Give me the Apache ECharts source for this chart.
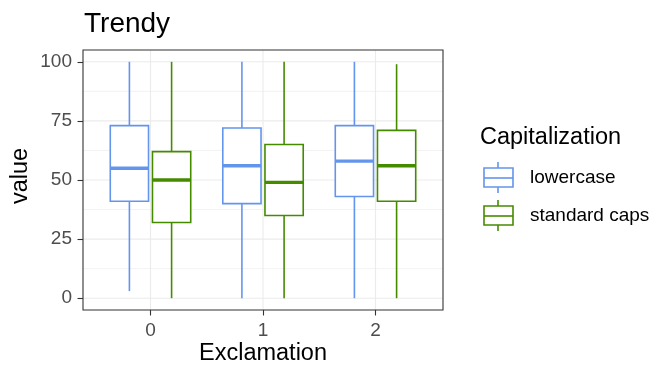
<!DOCTYPE html>
<html>
<head>
<meta charset="utf-8">
<script src="https://cdn.jsdelivr.net/npm/echarts@6/dist/echarts.min.js"></script>
<style>html,body{margin:0;padding:0;background:#fff}#c{width:650px;height:368px}</style>
</head>
<body>
<div id="c"></div>
<script>
// ---- data ----
const categories = ['0', '1', '2'];
const seriesNames = ['lowercase', 'standard caps'];
const lowerMin = [3, 0, 0];
const lowerQ1 = [41, 40, 43];
const lowerMed = [55, 56, 58];
const lowerQ3 = [73, 72, 73];
const lowerMax = [100, 100, 100];
const capsMin = [0, 0, 0];
const capsQ1 = [32, 35, 41];
const capsMed = [50, 49, 56];
const capsQ3 = [62, 65, 71];
const capsMax = [100, 100, 99];
const yTicks = [0, 25, 50, 75, 100];
const yMinor = [12.5, 37.5, 62.5, 87.5];

const FONT = 'Liberation Sans';
const BLUE = '#6495ED';
const GREEN = '#458B00';

function rows(mn, q1, md, q3, mx) {
  return categories.map((c, i) => [i, mn[i], q1[i], md[i], q3[i], mx[i]]);
}
const HALF = 0.17, OFF = 0.1875;
function boxRender(offset) {
  return function (params, api) {
    const cx = api.value(0) + offset;
    const color = api.visual('color');
    const xl = api.coord([cx - HALF, 0])[0];
    const xr = api.coord([cx + HALF, 0])[0];
    const xc = api.coord([cx, 0])[0];
    const yv = k => api.coord([cx, api.value(k)])[1];
    const yMin = yv(1), yQ1 = yv(2), yMed = yv(3), yQ3 = yv(4), yMax = yv(5);
    const ls = { stroke: color, lineWidth: 1.6, fill: null };
    return {
      type: 'group',
      children: [
        { type: 'line', shape: { x1: xc, y1: yQ1, x2: xc, y2: yMin }, style: ls },
        { type: 'line', shape: { x1: xc, y1: yQ3, x2: xc, y2: yMax }, style: ls },
        { type: 'rect', shape: { x: xl, y: yQ3, width: xr - xl, height: yQ1 - yQ3 },
          style: { stroke: color, lineWidth: 1.6, fill: '#ffffff' } },
        { type: 'line', shape: { x1: xl, y1: yMed, x2: xr, y2: yMed },
          style: { stroke: color, lineWidth: 3.4 } }
      ]
    };
  };
}
function hGrid(width) {
  return function (params, api) {
    const cs = params.coordSys;
    const y = api.coord([0, api.value(0)])[1];
    return { type: 'line', shape: { x1: cs.x, y1: y, x2: cs.x + cs.width, y2: y },
      style: { stroke: '#ebebeb', lineWidth: width } };
  };
}
function vGrid(params, api) {
  const cs = params.coordSys;
  const x = api.coord([api.value(0), 0])[0];
  return { type: 'line', shape: { x1: x, y1: cs.y, x2: x, y2: cs.y + cs.height },
    style: { stroke: '#ebebeb', lineWidth: 1.1 } };
}

function legendKey(y0, color) {
  return [
    { type: 'line', shape: { x1: 498, y1: y0 - 16, x2: 498, y2: y0 + 15 }, style: { stroke: color, lineWidth: 1.6 } },
    { type: 'rect', shape: { x: 484, y: y0 - 10, width: 29, height: 19 }, style: { stroke: color, lineWidth: 1.6, fill: '#fff' } },
    { type: 'line', shape: { x1: 484, y1: y0, x2: 513, y2: y0 }, style: { stroke: color, lineWidth: 1.6 } }
  ];
}

const chart = echarts.init(document.getElementById('c'), null, { renderer: 'canvas' });
chart.setOption({
  animation: false,
  backgroundColor: '#ffffff',
  title: {
    text: 'Trendy', left: 79, top: 5,
    textStyle: { fontFamily: FONT, fontSize: 28, fontWeight: 'normal', color: '#000' }
  },
  grid: {
    left: 83, top: 50, width: 360, height: 260,
    outerBoundsMode: 'none', containLabel: false,
    show: true, borderColor: '#333333', borderWidth: 1.1, backgroundColor: 'transparent', z: 10
  },
  xAxis: {
    type: 'value', min: -0.6, max: 2.6,
    axisLine: { show: false, onZero: false },
    axisTick: { show: true, length: 5.5, lineStyle: { color: '#333333', width: 1.1 }, customValues: [0, 1, 2] },
    axisLabel: { color: '#4d4d4d', fontFamily: FONT, fontSize: 19, margin: 11,
      customValues: [0, 1, 2], formatter: v => categories[Math.round(v)] },
    splitLine: { show: false }
  },
  yAxis: {
    type: 'value', min: -5, max: 105,
    axisLine: { show: false, onZero: false },
    axisTick: { show: true, length: 5.5, lineStyle: { color: '#333333', width: 1.1 }, customValues: yTicks },
    axisLabel: { color: '#4d4d4d', fontFamily: FONT, fontSize: 19, margin: 11, customValues: yTicks },
    splitLine: { show: false }
  },
  series: [
    { type: 'custom', name: 'gridMinor', silent: true, z: 0, clip: true,
      data: yMinor.map(v => [v]), encode: { y: 0 }, renderItem: hGrid(0.6) },
    { type: 'custom', name: 'gridMajor', silent: true, z: 0, clip: true,
      data: yTicks.map(v => [v]), encode: { y: 0 }, renderItem: hGrid(1.1) },
    { type: 'custom', name: 'gridX', silent: true, z: 0, clip: true,
      data: categories.map((c, i) => [i]), encode: { x: 0 }, renderItem: vGrid },
    { type: 'custom', name: seriesNames[0], z: 2, color: BLUE,
      data: rows(lowerMin, lowerQ1, lowerMed, lowerQ3, lowerMax),
      encode: { x: 0, y: [1, 2, 3, 4, 5] }, renderItem: boxRender(-OFF) },
    { type: 'custom', name: seriesNames[1], z: 2, color: GREEN,
      data: rows(capsMin, capsQ1, capsMed, capsQ3, capsMax),
      encode: { x: 0, y: [1, 2, 3, 4, 5] }, renderItem: boxRender(OFF) }
  ],
  graphic: [
    { type: 'text', x: 263, y: 354,
      style: { text: 'Exclamation', fontFamily: FONT, fontSize: 23.5, fill: '#000', align: 'center', verticalAlign: 'middle' } },
    { type: 'text', x: 21, y: 176, rotation: Math.PI / 2,
      style: { text: 'value', fontFamily: FONT, fontSize: 23.5, fill: '#000', align: 'center', verticalAlign: 'middle' } },
    { type: 'text', left: 480, top: 126,
      style: { text: 'Capitalization', fontFamily: FONT, fontSize: 23.5, fill: '#000' } },
    ...legendKey(178, BLUE),
    ...legendKey(216, GREEN),
    { type: 'text', x: 530, y: 178,
      style: { text: seriesNames[0], fontFamily: FONT, fontSize: 19, fill: '#000', verticalAlign: 'middle' } },
    { type: 'text', x: 530, y: 216,
      style: { text: seriesNames[1], fontFamily: FONT, fontSize: 19, fill: '#000', verticalAlign: 'middle' } }
  ]
});
</script>
</body>
</html>
